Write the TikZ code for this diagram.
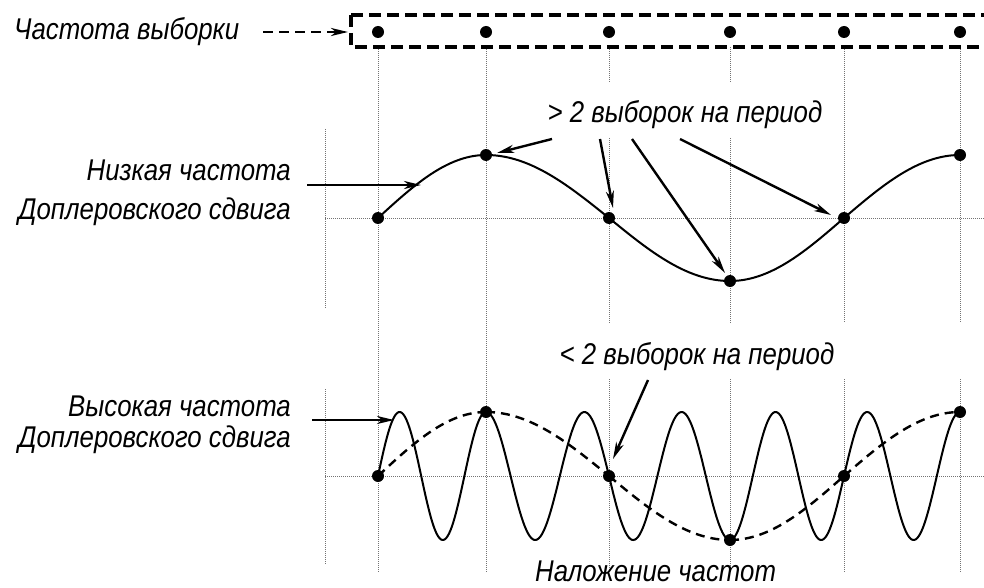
\documentclass[tikz,border=0pt]{standalone}
\usepackage{fontspec}
\setmainfont{Liberation Sans}[FakeStretch=0.86]
\usetikzlibrary{arrows.meta}
\begin{document}
\begin{tikzpicture}[x=1pt,y=-1pt,
  lbl/.style={font=\fontsize{30}{32}\selectfont\itshape, inner sep=0pt},
  gridl/.style={black!55, line width=0.8pt, dash pattern=on 1pt off 1pt},
  arr/.style={-{Stealth[length=17pt,width=8pt,inset=5pt]}, line width=2.4pt},
  dashbox/.style={line width=3.2pt, dash pattern=on 12pt off 6pt},
  dasharr/.style={-{Stealth[length=17pt,width=8pt,inset=5pt]}, line width=2.6pt, dash pattern=on 10pt off 6pt},
  wave/.style={line width=2pt},
  dwave/.style={line width=2.4pt, dash pattern=on 9pt off 6pt},
  smp/.style={circle, fill=black, inner sep=0pt, minimum size=12pt}]
\useasboundingbox (0,0) rectangle (984,588);

% grid lines
\foreach \x in {378,486} \draw[gridl] (\x,47) -- (\x,572);
\foreach \x in {609,730} {
  \draw[gridl] (\x,47) -- (\x,83);
  \draw[gridl] (\x,138) -- (\x,323);
  \draw[gridl] (\x,379) -- (\x,572);
}
\foreach \x in {844,960} {
  \draw[gridl] (\x,47) -- (\x,323);
  \draw[gridl] (\x,379) -- (\x,572);
}
\draw[gridl] (325,129) -- (325,308);
\draw[gridl] (325,389) -- (325,565);
\draw[gridl] (325,218) -- (984,218);
\draw[gridl] (325,476) -- (984,476);

% sampling box
\draw[dashbox] (351,15) rectangle (1000,47);

% sample coordinates
\foreach \n/\x in {0/378,1/486,2/609,3/730,4/844,5/960}
  \coordinate (t\n) at (\x,32);
\coordinate (m0) at (378,218); \coordinate (m1) at (486,155);
\coordinate (m2) at (609,218); \coordinate (m3) at (730,281);
\coordinate (m4) at (844,218); \coordinate (m5) at (960,155);
\coordinate (b0) at (378,476); \coordinate (b1) at (486,412);
\coordinate (b2) at (609,476); \coordinate (b3) at (730,540);
\coordinate (b4) at (844,476); \coordinate (b5) at (960,412);

% low-frequency wave
\foreach \i/\xa/\xb in {0/378/486,1/486/609,2/609/730,3/730/844,4/844/960}
  \draw[wave] plot[domain=0:1, samples=40, smooth]
    ({\xa+\x*(\xb-\xa)}, {218-63*sin((\i+\x)*90)});

% high-frequency wave and its alias
\foreach \i/\xa/\xb in {0/378/486,1/486/609,2/609/730,3/730/844,4/844/960} {
  \draw[wave] plot[domain=0:1, samples=80, smooth]
    ({\xa+\x*(\xb-\xa)}, {476-64*sin(5*(\i+\x)*90)});
  \draw[dwave] plot[domain=0:1, samples=40, smooth]
    ({\xa+\x*(\xb-\xa)}, {476-64*sin((\i+\x)*90)});
}

% dots
\foreach \n in {0,...,5} {
  \node[smp] (dt\n) at (t\n) {};
  \node[smp] (dm\n) at (m\n) {};
  \node[smp] (db\n) at (b\n) {};
}

% labels
\node[lbl, anchor=base west] (fs) at (14,40) {Частота выборки};
\node[lbl, anchor=base east] (low1) at (291,180) {Низкая частота};
\node[lbl, anchor=base east] (low2) at (291,219) {Доплеровского сдвига};
\node[lbl, anchor=base east] (high1) at (291,416) {Высокая частота};
\node[lbl, anchor=base east] (high2) at (291,447) {Доплеровского сдвига};
\node[lbl, anchor=base] (gt) at (685,123) {> 2 выборок на период};
\node[lbl, anchor=base] (lt) at (697,364) {< 2 выборок на период};
\node[lbl, anchor=base west] (alias) at (535,581) {Наложение частот};

% arrows
\coordinate (fsT) at (263,32); \coordinate (fsH) at (348,32);
\draw[dasharr] (fsT) -- (fsH);
\coordinate (lowT) at (307,185); \coordinate (lowH) at (421,185);
\draw[arr] (lowT) -- (lowH);
\coordinate (highT) at (312,420); \coordinate (highH) at (394,420);
\draw[arr] (highT) -- (highH);
\coordinate (g1) at (552,139); \coordinate (g2) at (600,139);
\coordinate (g3) at (632,139); \coordinate (g4) at (680,139);
\draw[arr] (g1) -- (497,153);
\draw[arr] (g2) -- (613,208);
\draw[arr] (g3) -- (725,273);
\draw[arr] (g4) -- (831,215);
\coordinate (l1) at (648,380);
\draw[arr] (l1) -- (613,459);
\end{tikzpicture}
\end{document}
